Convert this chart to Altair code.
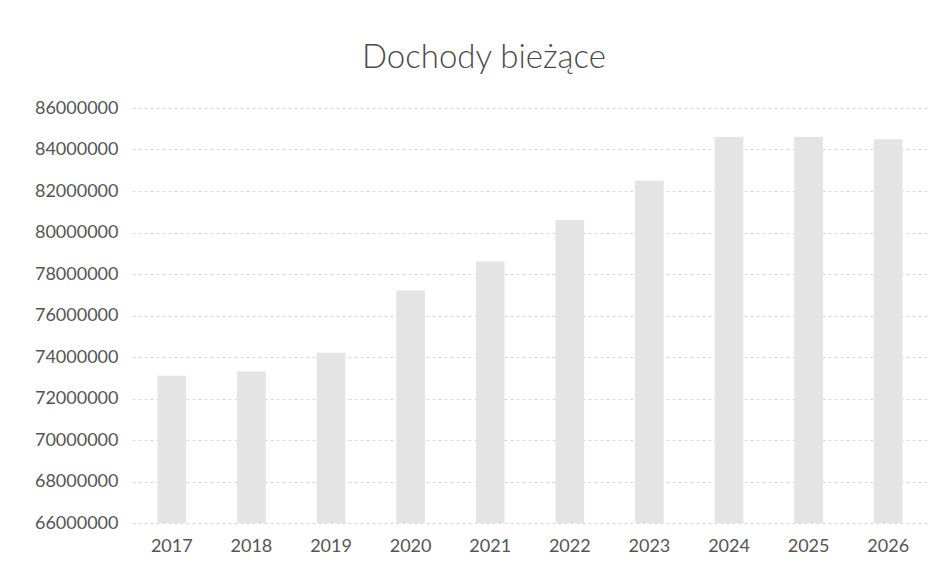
import altair as alt
import pandas as pd

years = ["2017", "2018", "2019", "2020", "2021", "2022", "2023", "2024", "2025", "2026"]
values = [73100000, 73300000, 74200000, 77200000, 78600000, 80600000, 82500000, 84600000, 84600000, 84500000]
y_ticks = [66000000, 68000000, 70000000, 72000000, 74000000, 76000000, 78000000, 80000000, 82000000, 84000000, 86000000]
title_text = "Dochody bieżące"

df = pd.DataFrame({"rok": years, "dochody": values})

FONT = "Lato"

chart = alt.Chart(df).mark_bar(color="#e4e4e4").encode(
    x=alt.X("rok:N", sort=years, title=None,
            scale=alt.Scale(paddingInner=0.64, paddingOuter=0.32),
            axis=alt.Axis(labelAngle=0, domain=False, ticks=False, labelPadding=14,
                          labelFont=FONT, labelFontSize=18, labelColor="#555555")),
    y=alt.Y("dochody:Q", title=None,
            scale=alt.Scale(domain=[66000000, 86000000], nice=False, zero=False),
            axis=alt.Axis(values=y_ticks, format="d", domain=False, ticks=False, labelPadding=14,
                          labelFont=FONT, labelFontSize=18, labelColor="#555555",
                          gridColor="#d9d9d9", gridDash=[3, 3], gridWidth=1)),
    y2=alt.Y2(datum=66000000),
).properties(
    width=796,
    height=415,
    background="white",
    title=alt.TitleParams(title_text, font=FONT, fontSize=33, fontWeight=300,
                          color="#4a4a4a", anchor="middle", dx=-46, offset=24),
    autosize=alt.AutoSizeParams(type="none"),
    padding={"left": 124, "top": 100, "right": 13, "bottom": 51},
).configure_view(strokeWidth=0, stroke=None)

chart.save("out.html", embed_options={"renderer": "svg", "actions": False})
